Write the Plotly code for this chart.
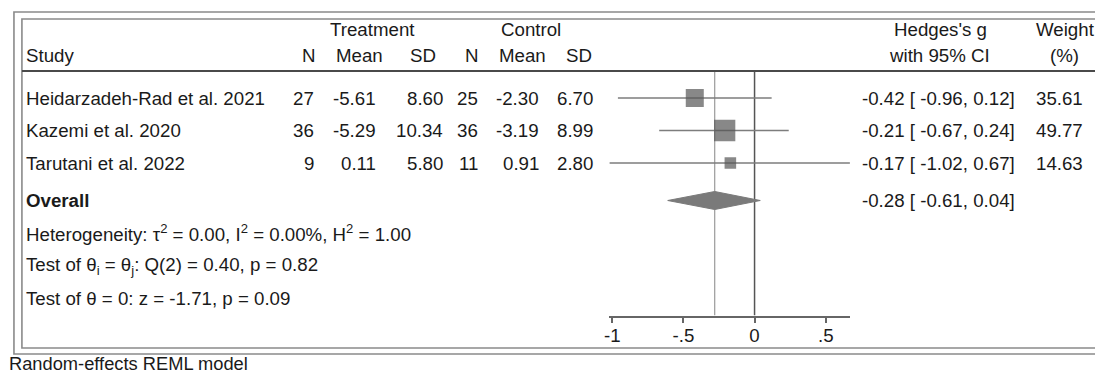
import plotly.graph_objects as go

# ---------------- data ----------------
studies = ["Heidarzadeh-Rad et al. 2021", "Kazemi et al. 2020", "Tarutani et al. 2022"]
n_t = [27, 36, 9]
mean_t = [-5.61, -5.29, 0.11]
sd_t = [8.60, 10.34, 5.80]
n_c = [25, 36, 11]
mean_c = [-2.30, -3.19, 0.91]
sd_c = [6.70, 8.99, 2.80]
g = [-0.42, -0.21, -0.17]
ci_lo = [-0.96, -0.67, -1.02]
ci_hi = [0.12, 0.24, 0.67]
weight = [35.61, 49.77, 14.63]
overall_g = -0.28
overall_lo = -0.61
overall_hi = 0.04
tau2, I2, H2 = 0.00, 0.00, 1.00
Q, Q_df, Q_p = 0.40, 2, 0.82
z_val, z_p = -1.71, 0.09
tick_vals = [-1, -0.5, 0, 0.5]
tick_text = ["-1", "-.5", "0", ".5"]
model_note = "Random-effects REML model"

# ---------------- layout constants (pixels) ----------------
W, H = 1095, 371
FONT = "Liberation Sans, Arial, Helvetica, sans-serif"
FS = 18.7
TXT = "#1a1a1a"
X0_PX = 753.0          # pixel of effect = 0
PX_PER_UNIT = 143.0
AXIS_Y = 315.5         # pixel row of the x axis
HEADER_LINE_Y = 71
ROW_Y = [98, 130.5, 163]
OVERALL_Y = 200.5
STAT_Y = [233, 265.5, 298]
HEAD1_Y, HEAD2_Y = 29, 55.5
LEFT_X = 19

def px(x):
    return x / W

def py(y):
    return 1 - y / H

xr = [min(ci_lo), max(ci_hi)]
xdom = [px(X0_PX + PX_PER_UNIT * xr[0]), px(X0_PX + PX_PER_UNIT * xr[1])]

fig = go.Figure()

# vertical reference lines (overall estimate and null)
fig.add_trace(go.Scatter(x=[overall_g, overall_g], y=[HEADER_LINE_Y + 1, AXIS_Y], mode="lines",
                         line=dict(color="#9a9a9a", width=1.2), hoverinfo="skip", showlegend=False))
fig.add_trace(go.Scatter(x=[0, 0], y=[HEADER_LINE_Y + 1, AXIS_Y], mode="lines",
                         line=dict(color="#555555", width=1.5), hoverinfo="skip", showlegend=False))

# CI lines
for i in range(len(studies)):
    fig.add_trace(go.Scatter(x=[ci_lo[i], ci_hi[i]], y=[ROW_Y[i], ROW_Y[i]], mode="lines",
                             line=dict(color="#7d7d7d", width=1.6), hoverinfo="skip", showlegend=False))

# squares (area proportional to weight)
fig.add_trace(go.Scatter(x=g, y=ROW_Y, mode="markers",
                         marker=dict(symbol="square", color="#555555",
                                     size=[3.02 * w ** 0.5 for w in weight], line=dict(width=0)),
                         hoverinfo="skip", showlegend=False))

# overall diamond
DH = 9
fig.add_trace(go.Scatter(x=[overall_lo, overall_g, overall_hi, overall_g, overall_lo],
                         y=[OVERALL_Y, OVERALL_Y - DH, OVERALL_Y, OVERALL_Y + DH, OVERALL_Y],
                         mode="lines", fill="toself", fillcolor="#7a7a7a",
                         line=dict(color="#7a7a7a", width=1), hoverinfo="skip", showlegend=False))

ann = []

def add_text(x, y, text, anchor="left", yref="y", size=FS):
    ann.append(dict(x=px(x), y=(y if yref == "y" else py(y)), xref="paper", yref=yref,
                    text=text, showarrow=False, xanchor=anchor, yanchor="middle",
                    font=dict(family=FONT, size=size, color=TXT)))

# headers
add_text(369.5, HEAD1_Y, "Treatment", "center")
add_text(528, HEAD1_Y, "Control", "center")
add_text(940, HEAD1_Y, "Hedges's g", "center")
add_text(1065, HEAD1_Y, "Weight", "center")
add_text(LEFT_X, HEAD2_Y, "Study", "left")
for xc, t in [(305.5, "N"), (356, "Mean"), (420, "SD"), (469.5, "N"), (520, "Mean"), (577, "SD")]:
    add_text(xc, HEAD2_Y, t, "center")
add_text(939, HEAD2_Y, "with 95% CI", "center")
add_text(1064, HEAD2_Y, "(%)", "center")

# study rows
for i, s in enumerate(studies):
    y = ROW_Y[i]
    add_text(LEFT_X, y, s, "left")
    add_text(312, y, f"{n_t[i]}", "right")
    add_text(375, y, f"{mean_t[i]:.2f}", "right")
    add_text(442, y, f"{sd_t[i]:.2f}", "right")
    add_text(477, y, f"{n_c[i]}", "right")
    add_text(538, y, f"{mean_c[i]:.2f}", "right")
    add_text(593, y, f"{sd_c[i]:.2f}", "right")
    add_text(1017, y, f"{g[i]:.2f} [ {ci_lo[i]:.2f}, {ci_hi[i]:.2f}]", "right")
    add_text(1085, y, f"{weight[i]:.2f}", "right")

add_text(LEFT_X, OVERALL_Y, "<b>Overall</b>", "left")
add_text(1017, OVERALL_Y, f"{overall_g:.2f} [ {overall_lo:.2f}, {overall_hi:.2f}]", "right")

add_text(LEFT_X, STAT_Y[0], f"Heterogeneity: τ<sup>2</sup> = {tau2:.2f}, I<sup>2</sup> = {I2:.2f}%, H<sup>2</sup> = {H2:.2f}", "left")
add_text(LEFT_X, STAT_Y[1], f"Test of θ<sub>i</sub> = θ<sub>j</sub>: Q({Q_df}) = {Q:.2f}, p = {Q_p:.2f}", "left")
add_text(LEFT_X, STAT_Y[2], f"Test of θ = 0: z = {z_val:.2f}, p = {z_p:.2f}", "left")

add_text(2, 363, model_note, "left", yref="paper", size=18.3)

# frame shapes
shapes = []
def rect(x0, y0, x1, y1, color, width):
    shapes.append(dict(type="rect", xref="paper", yref="paper", x0=px(x0), x1=px(x1),
                       y0=py(y1), y1=py(y0), line=dict(color=color, width=width), layer="below"))
rect(9, 12, 1110, 354, "#8a8a8a", 1.6)
rect(17, 19, 1110, 348, "#8a8a8a", 1.6)
shapes.append(dict(type="line", xref="paper", yref="paper", x0=px(17), x1=px(1110),
                   y0=py(HEADER_LINE_Y), y1=py(HEADER_LINE_Y), line=dict(color="#4a4a4a", width=2)))

fig.update_layout(
    width=W, height=H, margin=dict(l=0, r=0, t=0, b=0),
    paper_bgcolor="white", plot_bgcolor="rgba(0,0,0,0)",
    annotations=ann, shapes=shapes, showlegend=False,
    xaxis=dict(domain=xdom, range=xr, showline=True, linecolor="#666666", linewidth=1.5,
               ticks="outside", ticklen=6, tickwidth=1.5, tickcolor="#666666",
               tickvals=tick_vals, ticktext=tick_text, showgrid=False, zeroline=False,
               ticklabelstandoff=-4,
               tickfont=dict(family=FONT, size=FS, color=TXT), fixedrange=True),
    yaxis=dict(domain=[py(AXIS_Y), 1], range=[AXIS_Y, 0], visible=False, fixedrange=True),
)

fig.write_html("out.html")
